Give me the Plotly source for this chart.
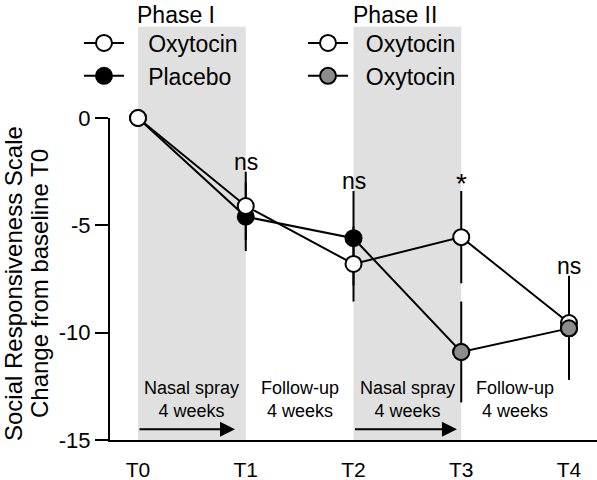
import plotly.graph_objects as go

# ---- data ----
timepoints = ["T0", "T1", "T2", "T3", "T4"]
x_pos = [0, 1, 2, 3, 4]

# Group A: Oxytocin (Phase I) -> Oxytocin (Phase II), open circles
oxy_oxy_mean = [0, -4.1, -6.8, -5.55, -9.55]
oxy_oxy_err = [0, 1.6, 1.75, 2.15, 2.2]

# Group B: Placebo (Phase I) -> Oxytocin (Phase II)
pla_oxy_mean = [0, -4.6, -5.6, -10.9, -9.8]
pla_oxy_err = [0, 1.6, 2.2, 2.35, 2.4]

sig_labels = ["", "ns", "ns", "*", "ns"]

period_labels = ["Nasal spray<br>4 weeks", "Follow-up<br>4 weeks",
                 "Nasal spray<br>4 weeks", "Follow-up<br>4 weeks"]
period_centers = [0.5, 1.5, 2.5, 3.5]
period_label_y = -13.1

arrow_start = [0.0, 2.0]
arrow_end = [0.9, 2.96]
arrow_y = -14.5

bands = [(0, 1), (2, 3)]
phase_titles = ["Phase I", "Phase II"]

y_ticks = [0, -5, -10, -15]
y_ticktext = ["0", "-5", "-10", "-15"]
y_title_lines = ["Social Responsiveness Scale", "Change from baseline T0"]

FONT = "Liberation Sans, Arial, sans-serif"
CHECK = "#8c8c8c"
NB = "\u00a0"

fig = go.Figure()

# group B trace (placebo in Phase I, oxytocin in Phase II)
fig.add_trace(go.Scatter(
    x=x_pos, y=pla_oxy_mean, mode="lines+markers",
    line=dict(color="black", width=2),
    marker=dict(size=16, symbol="circle",
                color=["white", "black", "black", CHECK, CHECK],
                line=dict(color="black", width=2)),
    error_y=dict(type="data", array=pla_oxy_err, visible=True,
                 thickness=2, width=0, color="black"),
    showlegend=False, cliponaxis=False))

# group A trace (oxytocin both phases)
fig.add_trace(go.Scatter(
    x=x_pos, y=oxy_oxy_mean, mode="lines+markers",
    line=dict(color="black", width=2),
    marker=dict(size=16, symbol="circle", color="white",
                line=dict(color="black", width=2)),
    error_y=dict(type="data", array=oxy_oxy_err, visible=True,
                 thickness=2, width=0, color="black"),
    showlegend=False, cliponaxis=False))

# Phase II oxytocin markers of group B drawn on top
fig.add_trace(go.Scatter(
    x=x_pos[3:], y=pla_oxy_mean[3:], mode="markers",
    marker=dict(size=16, symbol="circle", color=CHECK,
                line=dict(color="black", width=2)),
    showlegend=False, cliponaxis=False, hoverinfo="skip"))

# legend entries
legend_items = [
    (NB * 3 + "Oxytocin", "white", "legend"),
    (NB * 3 + "Placebo", "black", "legend"),
    (NB * 2 + "Oxytocin", "white", "legend2"),
    (NB * 2 + "Oxytocin", CHECK, "legend2"),
]
for name, col, lg in legend_items:
    fig.add_trace(go.Scatter(
        x=[None], y=[None], mode="lines+markers", name=name,
        line=dict(color="black", width=2),
        marker=dict(size=16, symbol="circle", color=col,
                    line=dict(color="black", width=2)),
        legend=lg, showlegend=True))

# shaded treatment bands
for x0, x1 in bands:
    fig.add_shape(type="rect", xref="x", yref="paper", x0=x0, x1=x1,
                  y0=0, y1=1.283, fillcolor="#e0e0e0", line=dict(width=0),
                  layer="below")

annotations = []
# phase titles
for (x0, _), t in zip(bands, phase_titles):
    annotations.append(dict(x=x0, y=1.366, xref="x", yref="paper", text=t,
                            showarrow=False, xanchor="left", yanchor="top",
                            xshift=-3,
                            font=dict(size=23, color="black", family=FONT)))
# y-axis title (two lines)
for xp, t in zip([-0.1971, -0.1437], y_title_lines):
    annotations.append(dict(x=xp, y=0.4845, xref="paper", yref="paper", text=t,
                            showarrow=False, textangle=-90,
                            xanchor="center", yanchor="middle",
                            font=dict(size=24, color="black", family=FONT)))
# significance labels
for xi, lab, a, ea, b, eb in zip(x_pos, sig_labels, oxy_oxy_mean, oxy_oxy_err,
                                 pla_oxy_mean, pla_oxy_err):
    if not lab:
        continue
    top = max(a + ea, b + eb)
    star = lab == "*"
    annotations.append(dict(x=xi, y=top, xref="x", yref="y", text=lab,
                            showarrow=False, xanchor="center", yanchor="bottom",
                            yshift=-10 if star else -5,
                            font=dict(size=28 if star else 23, color="black",
                                      family=FONT)))
# period labels
for xc, t in zip(period_centers, period_labels):
    annotations.append(dict(x=xc, y=period_label_y, xref="x", yref="y", text=t,
                            showarrow=False, xanchor="center", yanchor="middle",
                            font=dict(size=18, color="black", family=FONT)))
# arrows
for xs, xe in zip(arrow_start, arrow_end):
    annotations.append(dict(x=xe, y=arrow_y, ax=xs, ay=arrow_y, xref="x", yref="y",
                            axref="x", ayref="y", text="", showarrow=True,
                            arrowhead=2, arrowsize=1.5, arrowwidth=2,
                            arrowcolor="black", standoff=0))

fig.update_layout(
    width=597, height=480,
    margin=dict(l=110, r=0, t=118, b=40, autoexpand=False),
    paper_bgcolor="white", plot_bgcolor="white",
    font=dict(family=FONT, color="black", size=21),
    annotations=annotations,
    legend=dict(x=-0.0637, y=1.2997, xanchor="left", yanchor="top",
                bgcolor="rgba(0,0,0,0)", itemwidth=40,
                font=dict(size=23, family=FONT, color="black")),
    legend2=dict(x=0.3963, y=1.2997, xanchor="left", yanchor="top",
                 bgcolor="rgba(0,0,0,0)", itemwidth=40,
                 font=dict(size=23, family=FONT, color="black")),
)

fig.update_xaxes(range=[-0.26, 4.26], tickvals=x_pos, ticktext=timepoints,
                 showline=True, linewidth=2, linecolor="black", ticks="",
                 showgrid=False, zeroline=False, ticklabelstandoff=10,
                 tickfont=dict(size=21, family=FONT, color="black"))
fig.update_yaxes(range=[-15, 0], tickvals=y_ticks, ticktext=y_ticktext,
                 showline=True, linewidth=2, linecolor="black", ticks="outside",
                 ticklen=13, tickwidth=2, tickcolor="black",
                 showgrid=False, zeroline=False,
                 tickfont=dict(size=22, family=FONT, color="black"))

fig.write_html("out.html", config={"displayModeBar": False},
               post_script="document.body.style.margin='0';")
